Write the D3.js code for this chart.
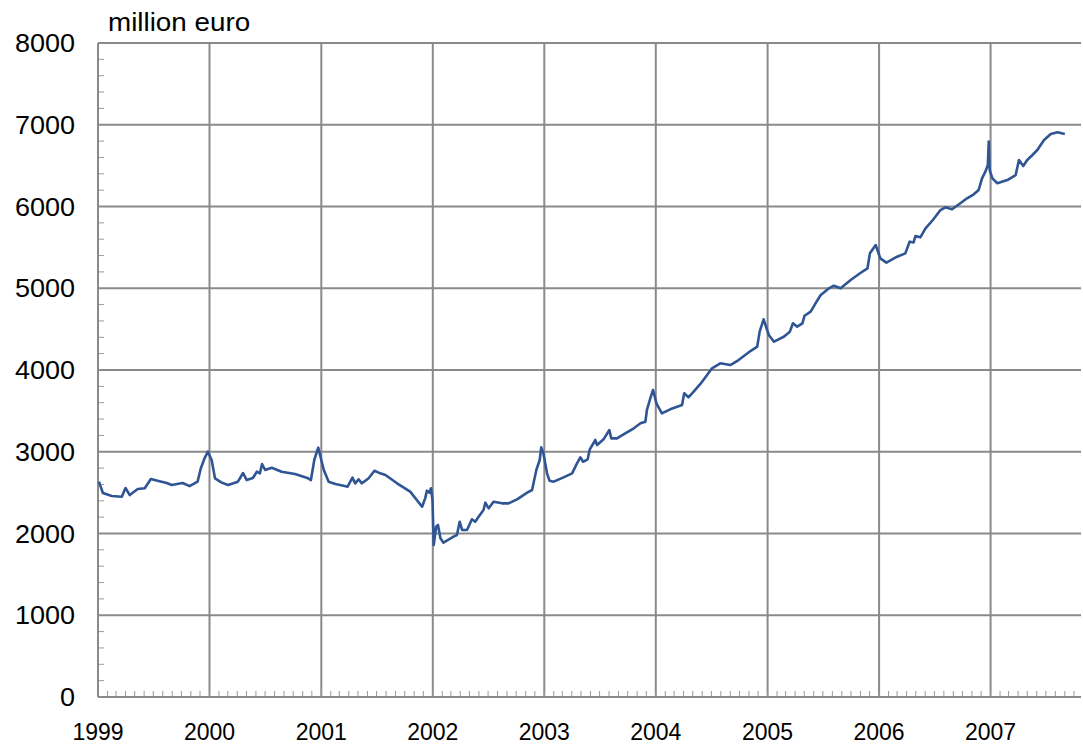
<!DOCTYPE html>
<html>
<head>
<meta charset="utf-8">
<script src="https://cdn.jsdelivr.net/npm/d3@7"></script>
<style>
  html, body { margin: 0; padding: 0; background: #fff; }
  svg { display: block; }
  text { font-family: "Liberation Sans", Arial, sans-serif; fill: #000; }
</style>
</head>
<body>
<svg id="chart" width="1083" height="747"></svg>
<script>
// ---- data ----
const dates = [
  "1999-01-04","1999-01-17","1999-02-15","1999-03-20","1999-04-01","1999-04-15","1999-05-11","1999-06-03",
  "1999-06-23","1999-07-15","1999-08-14","1999-08-30","1999-10-05","1999-10-28","1999-11-23","1999-12-03",
  "1999-12-16","1999-12-27",
  "2000-01-08","2000-01-19","2000-02-10","2000-03-02","2000-04-03","2000-04-20","2000-05-02","2000-05-22",
  "2000-06-04","2000-06-14","2000-06-21","2000-07-01","2000-07-23","2000-08-24","2000-10-07","2000-11-19",
  "2000-11-28","2000-12-09","2000-12-22",
  "2001-01-09","2001-01-25","2001-02-16","2001-03-15","2001-03-28","2001-04-13","2001-04-22","2001-05-03",
  "2001-05-14","2001-06-05","2001-06-24","2001-07-13","2001-07-30","2001-09-06","2001-10-19","2001-11-27",
  "2001-12-07","2001-12-13","2001-12-21","2001-12-26","2001-12-31",
  "2002-01-04","2002-01-12","2002-01-18","2002-01-26","2002-02-05","2002-03-10","2002-03-21","2002-03-30",
  "2002-04-07","2002-04-23","2002-05-09","2002-05-20","2002-05-31","2002-06-16","2002-06-22","2002-07-03",
  "2002-07-19","2002-08-16","2002-09-06","2002-10-04","2002-11-06","2002-11-22","2002-12-06","2002-12-17",
  "2002-12-22","2002-12-29",
  "2003-01-10","2003-01-18","2003-02-01","2003-03-05","2003-04-02","2003-04-18","2003-04-29","2003-05-08",
  "2003-05-23","2003-05-30","2003-06-17","2003-06-23","2003-07-14","2003-08-02","2003-08-08","2003-08-27",
  "2003-09-23","2003-10-21","2003-11-12","2003-11-28","2003-12-03","2003-12-14","2003-12-23",
  "2004-01-03","2004-01-21","2004-02-17","2004-03-27","2004-04-03","2004-04-17","2004-05-04","2004-05-26",
  "2004-06-17","2004-07-03","2004-07-30","2004-09-01","2004-09-28","2004-11-06","2004-11-28","2004-12-06",
  "2004-12-19",
  "2005-01-05","2005-01-22","2005-02-23","2005-03-15","2005-03-25","2005-04-08","2005-04-25","2005-05-02",
  "2005-05-22","2005-06-07","2005-06-24","2005-07-21","2005-08-06","2005-08-28","2005-09-30","2005-11-02",
  "2005-11-24","2005-12-02","2005-12-21",
  "2006-01-05","2006-01-25","2006-03-01","2006-03-28","2006-04-11","2006-04-24","2006-04-30","2006-05-16",
  "2006-06-02","2006-06-26","2006-07-21","2006-08-06","2006-08-28","2006-09-24","2006-10-16","2006-11-07",
  "2006-11-23","2006-12-04","2006-12-15","2006-12-23","2006-12-26","2006-12-29",
  "2007-01-07","2007-01-23","2007-02-25","2007-03-24","2007-04-04","2007-04-18","2007-05-01","2007-05-18",
  "2007-06-03","2007-06-25","2007-07-17","2007-08-08","2007-09-01"
];
const values = [
  2634,2495,2459,2450,2556,2470,2544,2553,
  2667,2646,2618,2593,2618,2580,2634,2789,
  2923,3001,
  2899,2675,2622,2593,2634,2740,2654,2679,
  2756,2736,2850,2777,2805,2756,2728,2675,
  2654,2899,3050,
  2780,2634,2606,2585,2573,2683,2614,2663,
  2614,2675,2768,2736,2716,2614,2512,2328,
  2430,2524,2499,2553,2410,
  1859,2083,2104,1941,1888,1961,1982,2144,
  2043,2043,2174,2144,2206,2287,2377,2308,
  2389,2369,2369,2418,2499,2532,2777,2899,
  3054,2981,
  2736,2646,2634,2687,2736,2858,2932,2878,
  2907,3030,3144,3083,3152,3266,3164,3164,
  3226,3287,3348,3368,3511,3654,3755,
  3593,3470,3519,3572,3715,3666,3735,3829,
  3939,4021,4082,4061,4122,4232,4285,4469,
  4620,
  4428,4346,4407,4469,4571,4530,4571,4664,
  4713,4816,4917,4999,5031,4999,5101,5190,
  5244,5427,5529,
  5366,5313,5386,5427,5570,5560,5639,5623,
  5733,5835,5957,5990,5966,6039,6100,6149,
  6202,6345,6426,6508,6793,6446,
  6345,6284,6324,6385,6569,6495,6569,6630,
  6691,6813,6887,6908,6887
];
const yearLabels = ["1999","2000","2001","2002","2003","2004","2005","2006","2007"];
const yTicks = [0,1000,2000,3000,4000,5000,6000,7000,8000];
const unitLabel = "million euro";

// ---- layout ----
const svg = d3.select("#chart");
const L = 98, R = 1081, T = 43, B = 697;
const parse = d3.timeParse("%Y-%m-%d");
const data = dates.map((d, i) => ({ date: parse(d), value: values[i] }));

const x = d3.scaleTime()
  .domain([parse("1999-01-01"), parse("2007-10-24")])
  .range([L, R]);
const y = d3.scaleLinear().domain([0, 8000]).range([B, T]);

const gridColor = "#8a8a8a";

// horizontal gridlines
svg.append("g").selectAll("line").data(yTicks.filter(d => d > 0)).join("line")
  .attr("x1", L).attr("x2", R)
  .attr("y1", d => y(d)).attr("y2", d => y(d))
  .attr("stroke", gridColor).attr("stroke-width", 2);

// vertical gridlines at years
const yearDates = yearLabels.map(s => parse(s + "-01-01"));
svg.append("g").selectAll("line").data(yearDates.slice(1)).join("line")
  .attr("x1", d => x(d)).attr("x2", d => x(d))
  .attr("y1", T).attr("y2", B)
  .attr("stroke", gridColor).attr("stroke-width", 2);

// y axis minor ticks (every 200, inward)
const yMinor = d3.range(200, 8000, 200).filter(v => v % 1000 !== 0);
svg.append("g").selectAll("line").data(yMinor).join("line")
  .attr("x1", L).attr("x2", L + 6)
  .attr("y1", d => y(d)).attr("y2", d => y(d))
  .attr("stroke", "#9a9a9a").attr("stroke-width", 1);

// x axis monthly ticks (inward)
const months = d3.timeMonth.range(parse("1999-02-01"), parse("2007-10-24"));
svg.append("g").selectAll("line").data(months).join("line")
  .attr("x1", d => x(d)).attr("x2", d => x(d))
  .attr("y1", B).attr("y2", B - 6)
  .attr("stroke", "#9a9a9a").attr("stroke-width", 1);

// axes lines
svg.append("line").attr("x1", L).attr("x2", L).attr("y1", T).attr("y2", B)
  .attr("stroke", gridColor).attr("stroke-width", 2);
svg.append("line").attr("x1", L).attr("x2", R).attr("y1", B).attr("y2", B)
  .attr("stroke", gridColor).attr("stroke-width", 2);

// y labels
svg.append("g").selectAll("text").data(yTicks).join("text")
  .attr("transform", d => `translate(75,${y(d)}) scale(1.06,1)`)
  .attr("dy", "0.36em")
  .attr("text-anchor", "end")
  .attr("font-size", 25.5)
  .text(d => d);

// x labels
svg.append("g").selectAll("text").data(yearDates).join("text")
  .attr("x", d => x(d)).attr("y", 740)
  .attr("text-anchor", "middle")
  .attr("font-size", 23)
  .text((d, i) => yearLabels[i]);

// unit label
svg.append("text")
  .attr("transform", "translate(108,31) scale(1.07,1)")
  .attr("font-size", 26).text(unitLabel);

// series line
const line = d3.line().x(d => x(d.date)).y(d => y(d.value));
svg.append("path").datum(data)
  .attr("d", line)
  .attr("fill", "none")
  .attr("stroke", "#2f5594")
  .attr("stroke-width", 2.6)
  .attr("stroke-linejoin", "round");
</script>
</body>
</html>
